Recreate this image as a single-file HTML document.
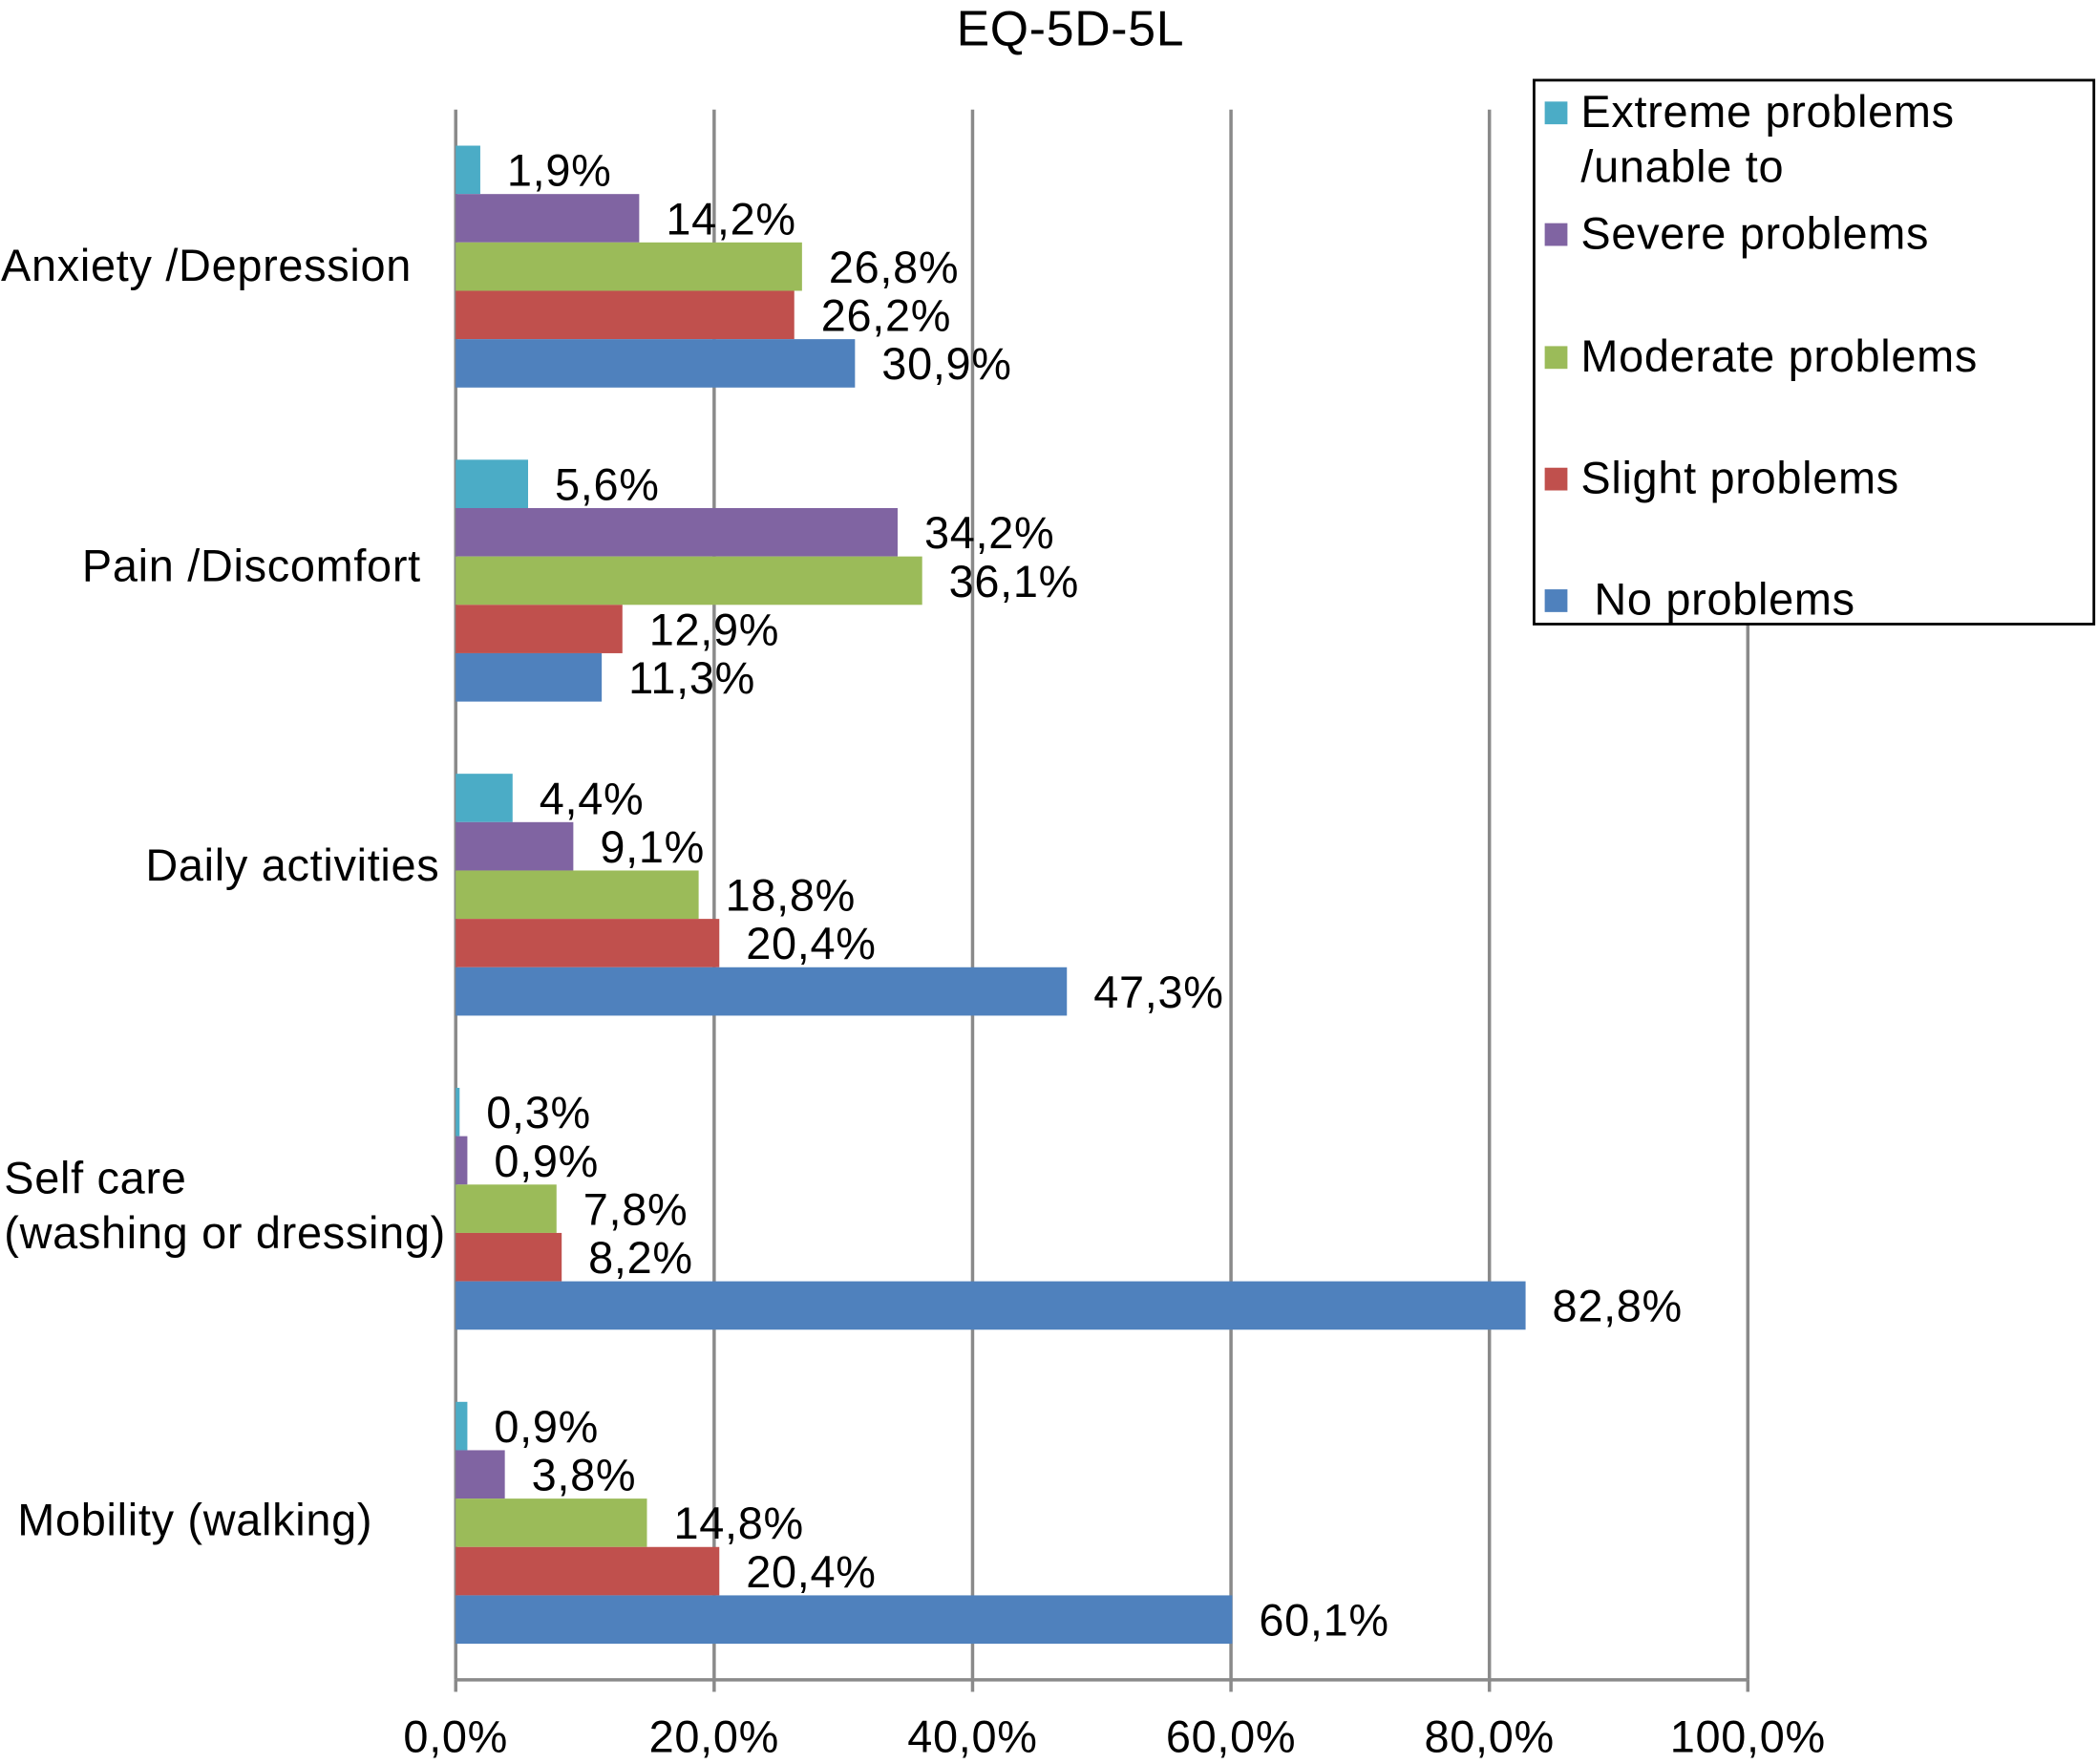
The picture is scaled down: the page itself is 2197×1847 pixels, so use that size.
<!DOCTYPE html>
<html><head><meta charset="utf-8"><style>
html,body{margin:0;padding:0;background:#fff}
svg{display:block}
text{font-family:"Liberation Sans",sans-serif;fill:#000;letter-spacing:0.5px}
</style></head><body>
<svg id="chart" width="2197" height="1847" viewBox="0 0 1568 1320" xmlns="http://www.w3.org/2000/svg">
<text x="800" y="34" font-size="37" text-anchor="middle">EQ-5D-5L</text>
<g id="grid"></g><g id="bars"></g>
<g>
<rect x="1147" y="60" width="419" height="407" fill="#fff" stroke="#000" stroke-width="2"/>
<rect x="1155" y="76" width="17" height="17" fill="#4BACC6"/>
<text x="1182" y="95" font-size="33.5">Extreme problems</text>
<text x="1182" y="136" font-size="33.5">/unable to</text>
<rect x="1155" y="167" width="17" height="17" fill="#8064A2"/>
<text x="1182" y="186" font-size="33.5">Severe problems</text>
<rect x="1155" y="259" width="17" height="17" fill="#9BBB59"/>
<text x="1182" y="278" font-size="33.5">Moderate problems</text>
<rect x="1155" y="350" width="17" height="17" fill="#C0504D"/>
<text x="1182" y="369" font-size="33.5">Slight problems</text>
<rect x="1155" y="441" width="17" height="17" fill="#4F81BD"/>
<text x="1192" y="460" font-size="33.5">No problems</text>
</g>
<g font-size="33.5">
<text x="307" y="210" text-anchor="end">Anxiety /Depression</text>
<text x="314" y="435" text-anchor="end">Pain /Discomfort</text>
<text x="328" y="659" text-anchor="end">Daily activities</text>
<text x="2" y="893">Self care</text>
<text x="2" y="934">(washing or dressing)</text>
<text x="12" y="1149">Mobility (walking)</text>
</g>
</svg>
<script>
const categories=["Anxiety /Depression","Pain /Discomfort","Daily activities","Self care","Mobility (walking)"];
const seriesNames=["extreme","severe","moderate","slight","none"];
const extreme=[1.9,5.6,4.4,0.3,0.9];
const severe=[14.2,34.2,9.1,0.9,3.8];
const moderate=[26.8,36.1,18.8,7.8,14.8];
const slight=[26.2,12.9,20.4,8.2,20.4];
const none=[30.9,11.3,47.3,82.8,60.1];
const ticks=[0,20,40,60,80,100];
const tickLabels=["0,0%","20,0%","40,0%","60,0%","80,0%","100,0%"];

const colors=["#4BACC6","#8064A2","#9BBB59","#C0504D","#4F81BD"];
const X0=340,X1=1307,YT=82,YB=1257;
const xs=v=>X0+(X1-X0)*v/100;
const band=(YB-YT)/categories.length;
const NS="http://www.w3.org/2000/svg";
function mk(tag,attrs,parent){const e=document.createElementNS(NS,tag);for(const k in attrs)e.setAttribute(k,attrs[k]);parent.appendChild(e);return e;}
const grid=document.getElementById('grid'),bars=document.getElementById('bars');
ticks.forEach((t,i)=>{
  if(i>0){const l=mk('line',{x1:xs(t),x2:xs(t),y1:YT,y2:YB,stroke:'#8a8a8a','stroke-width':2.5},grid);
  
  }
  const tk=mk('line',{x1:xs(t),x2:xs(t),y1:YB,y2:YB+9,stroke:'#8a8a8a','stroke-width':2.5},grid);
  
  
  const tx=mk('text',{x:xs(t),y:1311,'font-size':33.5,'text-anchor':'middle'},grid);
  tx.textContent=tickLabels[i];
  
  
});
const ax=mk('line',{x1:X0,x2:X1,y1:YB,y2:YB,stroke:'#8a8a8a','stroke-width':2.5},grid);


const ay=mk('line',{x1:X0,x2:X0,y1:YT,y2:YB,stroke:'#8a8a8a','stroke-width':2.5},grid);


const series=[extreme,severe,moderate,slight,none];
const bh=36.2;
categories.forEach((c,ci)=>{
  series.forEach((s,si)=>{
    const y=YT+ci*band+27+si*bh;
    const r=mk('rect',{x:X0,y:y,width:Math.max(xs(s[ci])-X0,1.5),height:bh,fill:colors[si]},bars);
    
    
    const t=mk('text',{x:xs(s[ci])+20,y:y+bh/2+12,'font-size':33.5},bars);
    t.textContent=s[ci].toFixed(1).replace('.',',')+'%';
    
    
  });
});
</script>
</body></html>
